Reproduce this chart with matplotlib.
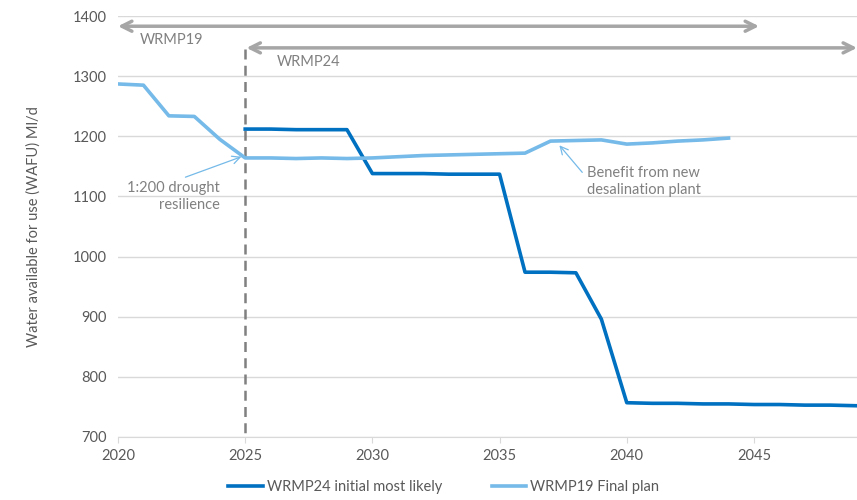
import numpy as np
import matplotlib
matplotlib.use("Agg")
import matplotlib.pyplot as plt

plt.rcParams['font.family'] = ['Lato', 'DejaVu Sans']

# WRMP24 initial most likely (Ml/d)
years_24 = np.arange(2025, 2050)
wrmp24 = [1212, 1212, 1211, 1211, 1211, 1138, 1138, 1138, 1137, 1137,
          1137, 974, 974, 973, 896, 757, 756, 756, 755, 755,
          754, 754, 753, 753, 752]

# WRMP19 Final plan (Ml/d)
years_19 = np.arange(2020, 2045)
wrmp19 = [1287, 1285, 1234, 1233, 1195, 1164, 1164, 1163, 1164, 1163,
          1164, 1166, 1168, 1169, 1170, 1171, 1172, 1192, 1193, 1194,
          1187, 1189, 1192, 1194, 1197]

x_ticks = [2020, 2025, 2030, 2035, 2040, 2045]
y_ticks = [700, 800, 900, 1000, 1100, 1200, 1300, 1400]

dark = '#0070C0'
light = '#75BAE8'
grey_arrow = '#A6A6A6'
grey_text = '#808080'
tick_col = '#595959'

fig = plt.figure(figsize=(8.57, 5.0), dpi=100)
ax = fig.add_axes([0.1377, 0.126, 0.8623, 0.842])

ax.plot(years_24, wrmp24, color=dark, lw=2.6, label='WRMP24 initial most likely', zorder=3)
ax.plot(years_19, wrmp19, color=light, lw=2.6, label='WRMP19 Final plan', zorder=3)

ax.set_xlim(2020, 2049.05)
ax.set_ylim(700, 1400)
ax.set_xticks(x_ticks)
ax.set_yticks(y_ticks)
ax.grid(axis='y', color='#D9D9D9', lw=1)
ax.set_axisbelow(True)
for s in ['top', 'right', 'left']:
    ax.spines[s].set_visible(False)
ax.spines['bottom'].set_color('#D9D9D9')
ax.tick_params(axis='y', length=0, pad=8, labelsize=10.5, labelcolor=tick_col)
ax.tick_params(axis='x', length=4, color='#D9D9D9', pad=5, labelsize=10.5, labelcolor=tick_col)
ax.set_ylabel('Water available for use (WAFU) Ml/d', fontsize=10.5, color=tick_col, labelpad=23)

# planning period arrows
ax.annotate('', xy=(2020, 1383), xytext=(2045.2, 1383),
            arrowprops=dict(arrowstyle='<->', color=grey_arrow, lw=2.5,
                            shrinkA=0, shrinkB=0, mutation_scale=18), annotation_clip=False)
ax.text(2020.85, 1360, 'WRMP19', fontsize=10.5, color=grey_text, va='center')
ax.annotate('', xy=(2025.05, 1347), xytext=(2049.05, 1347),
            arrowprops=dict(arrowstyle='<->', color=grey_arrow, lw=2.5,
                            shrinkA=0, shrinkB=0, mutation_scale=18), annotation_clip=False)
ax.text(2026.25, 1323, 'WRMP24', fontsize=10.5, color=grey_text, va='center')
ax.plot([2025, 2025], [1345, 700], color='#808080', lw=1.8, ls=(0, (4, 2.5)), zorder=2)

# annotations
ax.annotate('1:200 drought\nresilience', xy=(2024.85, 1166), xytext=(2024.0, 1100),
            fontsize=10.5, color=grey_text, ha='right', va='center', multialignment='right')
ax.annotate('', xy=(2024.85, 1166), xytext=(2022.65, 1132),
            arrowprops=dict(arrowstyle='->', color=light, lw=0.9, shrinkA=0, shrinkB=0,
                            mutation_scale=14))
ax.text(2038.45, 1125, 'Benefit from new\ndesalination plant', fontsize=10.5,
        color=grey_text, ha='left', va='center', linespacing=1.25)
ax.annotate('', xy=(2037.35, 1185), xytext=(2038.25, 1140),
            arrowprops=dict(arrowstyle='->', color=light, lw=0.9, shrinkA=0, shrinkB=0,
                            mutation_scale=14))

fig.legend(loc='center', bbox_to_anchor=(0.518, 0.026), ncol=2, frameon=False,
           fontsize=10.5, labelcolor=tick_col, handlelength=2.35, columnspacing=3.4,
           handletextpad=0.3)

fig.savefig('out.png', dpi=100)
